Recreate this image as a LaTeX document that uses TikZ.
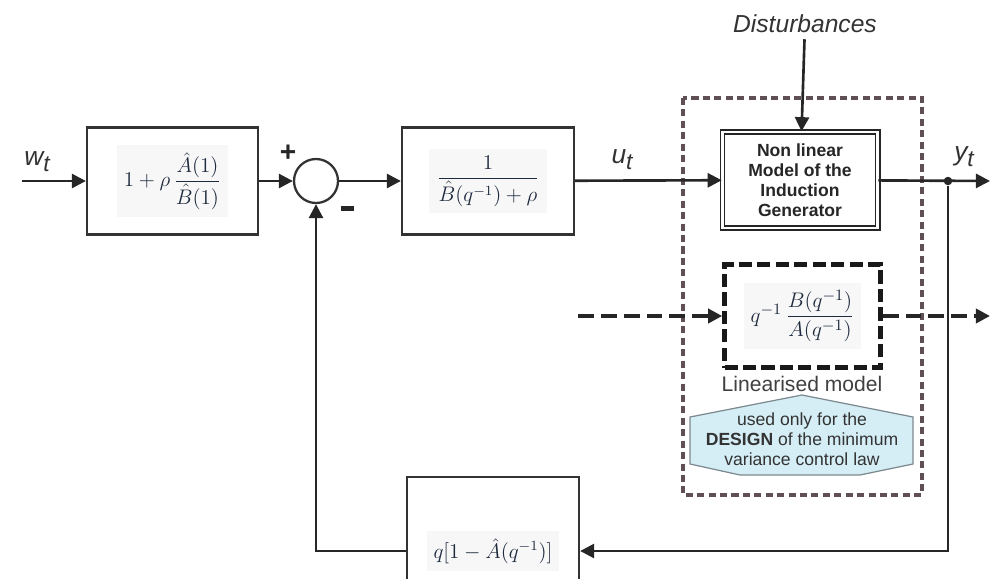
\documentclass[tikz,border=0pt]{standalone}
\usepackage{fontspec}
\usepackage{amsmath}
\setsansfont{Liberation Sans}
\usetikzlibrary{arrows.meta,calc,positioning}

\definecolor{framegray}{HTML}{605056}
\definecolor{hexblue}{HTML}{D5EDF5}
\definecolor{hexline}{HTML}{7C8A90}
\definecolor{mathink}{HTML}{1E2A3E}

\newcommand{\signame}[2]{#1\raisebox{-0.45ex}{\fontsize{13}{13}\selectfont #2}}
\newcommand{\eqpanel}[1]{\setlength{\fboxsep}{4pt}\colorbox{black!3}{\color{mathink}#1}}

\tikzset{
  blk/.style={draw=black!80, line width=1.3pt, fill=white, inner sep=0pt,
    font=\fontsize{12}{14}\selectfont},
  sig/.style={-{Triangle[length=8pt,width=8pt]}, line width=1.5pt, draw=black!85},
  dsig/.style={sig, dash pattern=on 9pt off 4pt, line width=2pt},
  lbl/.style={font=\fontsize{15}{17}\sffamily\itshape, text=black!80},
  sgn/.style={font=\fontsize{16}{16}\sffamily\bfseries, text=black!85}
}

\begin{document}
\begin{tikzpicture}[x=0.2mm,y=-0.2mm]
  \useasboundingbox (0,0) rectangle (990,578);
  % plant frame
  \draw[framegray, line width=2pt, dash pattern=on 4pt off 2.5pt] (683,98) rectangle (922,495);
  % hexagon note
  \draw[hexline, fill=hexblue, line width=0.7pt] (690,417) -- (802,395) -- (913,417) -- (913,464)
     -- (860,475) -- (740,475) -- (690,464) -- cycle;
  \node[align=center, font=\fontsize{10}{11.4}\sffamily, text=black!80] (design) at (802,439)
     {used only for the\\\textbf{DESIGN} of the minimum\\variance control law};

  % blocks
  \node[blk, minimum width=34.2mm, minimum height=21.4mm] (pre) at (172.5,181)
     {\eqpanel{$1+\rho\,\dfrac{\hat{A}(1)}{\hat{B}(1)}$}};
  \node[blk, circle, minimum size=8.8mm] (sum) at (316,181) {};
  \node[blk, minimum width=34.4mm, minimum height=21.4mm] (ctrl) at (488,181)
     {\eqpanel{$\dfrac{1}{\hat{B}(q^{-1})+\rho}$}};
  \node[draw=black!85, double, double distance=1.6pt, line width=0.9pt, fill=white,
     minimum width=31mm, minimum height=19.2mm, align=center,
     font=\fontsize{10}{11.4}\sffamily\bfseries, text=black!85] (gen) at (800,180)
     {Non linear\\Model of the\\Induction\\Generator};
  \node[draw=black!90, line width=2.6pt, dash pattern=on 7.5pt off 3pt, fill=white,
     minimum width=31.2mm, minimum height=20.6mm, inner sep=0pt,
     font=\fontsize{13}{15}\selectfont] (lin) at (802.5,316)
     {\eqpanel{$q^{-1}\,\dfrac{B(q^{-1})}{A(q^{-1})}$}};
  \node[font=\fontsize{12}{14}\sffamily, text=black!75] (linlbl) at (802,384) {Linearised model};
  \node[blk, minimum width=34.4mm, minimum height=29.6mm] (fb) at (493,551)
     {\eqpanel{$q[1-\hat{A}(q^{-1})]$}};

  % signals
  \coordinate (win) at (22,181);
  \coordinate (yout) at (990,181);
  \coordinate (linin) at (578,316);
  \coordinate (linout) at (990,316);
  \node[circle, fill=black!85, inner sep=0pt, minimum size=1.7mm] (tap) at (948,181) {};
  \node[lbl, font=\fontsize{14}{16}\sffamily\itshape] (dist) at (805,24) {Disturbances};

  \node[lbl] (wt) at (37,162) {\signame{w}{t}};
  \node[lbl] (ut) at (622,160) {\signame{u}{t}};
  \node[lbl] (yt) at (964,157) {\signame{y}{t}};
  \node[sgn] (plus) at (288,153) {+};
  \node[sgn] (minus) at (347,212) {\rule[0.5ex]{2.6mm}{0.9mm}};

  \draw[sig] (win) -- (pre);
  \draw[sig] (pre) -- (sum);
  \draw[sig] (sum) -- (ctrl);
  \draw[sig] (ctrl) -- (gen);
  \draw[sig] (gen) -- (yout);
  \draw[sig] (dist) -- (gen);
  \draw[sig] (tap) |- (fb.east);
  \draw[sig] (fb.west) -| (sum.south);
  \draw[dsig] (linin) -- (lin);
  \draw[dsig] (lin) -- (linout);
\end{tikzpicture}
\end{document}
